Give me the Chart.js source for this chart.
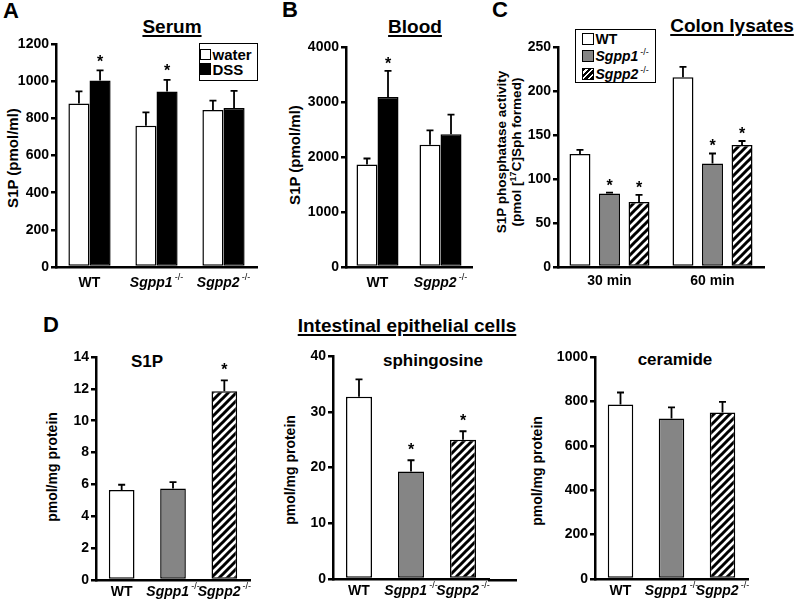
<!DOCTYPE html>
<html>
<head>
<meta charset="utf-8">
<script src="https://cdn.jsdelivr.net/npm/chart.js@4"></script>
<style>
  body { margin: 0; width: 800px; height: 603px; background: #fff; position: relative; overflow: hidden;
         font-family: "Liberation Sans", Arial, sans-serif; font-weight: bold; color: #000; }
  .t { position: absolute; white-space: nowrap; line-height: 1; }
  .c { transform: translateX(-50%); }
  .ttl { font-size: 19px; text-decoration: underline; text-decoration-thickness: 2px; text-underline-offset: 2px; }
  .letter { font-size: 22px; }
  .sub { font-size: 17px; }
  .ytl { position: absolute; white-space: nowrap; text-align: center; transform: translate(-50%, -50%) rotate(-90deg); }
  .panel { position: absolute; }
  .leg { position: absolute; border: 1.5px solid #000; box-sizing: border-box; }
  .sw { position: absolute; border: 1.5px solid #000; box-sizing: border-box; }
  .hatch { background: repeating-linear-gradient(-45deg, #000 0 2.2px, #fff 2.2px 4.2px); }
  sup { font-size: 9px; font-weight: normal; vertical-align: baseline; position: relative; top: -6px; margin-left: 2px; }
</style>
</head>
<body>

<div class="t letter" style="left:3px;top:0px">A</div>
<div class="t letter" style="left:282px;top:-1px">B</div>
<div class="t letter" style="left:492px;top:-1px">C</div>
<div class="t letter" style="left:43px;top:314px">D</div>

<div class="t ttl c" style="left:172px;top:17px">Serum</div>
<div class="t ttl c" style="left:415px;top:17px">Blood</div>
<div class="t ttl c" style="left:732px;top:16px">Colon lysates</div>
<div class="t ttl c" style="left:407px;top:316px">Intestinal epithelial cells</div>

<div class="t sub c" style="left:147px;top:353px">S1P</div>
<div class="t sub c" style="left:433px;top:352px">sphingosine</div>
<div class="t sub c" style="left:675px;top:351px">ceramide</div>

<div class="ytl" style="left:12px;top:158px;font-size:15px">S1P (pmol/ml)</div>
<div class="ytl" style="left:294px;top:155px;font-size:15px">S1P (pmol/ml)</div>
<div class="ytl" style="left:510px;top:152px;font-size:13.5px;line-height:15px">S1P phosphatase activity<br>(pmol [<span style="font-size:9px;position:relative;top:-5px">17</span>C]Sph formed)</div>
<div class="ytl" style="left:52px;top:467px;font-size:14px">pmol/mg protein</div>
<div class="ytl" style="left:290px;top:470px;font-size:14px">pmol/mg protein</div>
<div class="ytl" style="left:537px;top:471px;font-size:14px">pmol/mg protein</div>

<div class="leg" style="left:199px;top:43px;width:59px;height:38px">
  <div class="sw" style="left:0px;top:4.5px;width:11px;height:11px;background:#fff"></div>
  <div class="t" style="left:12.5px;top:2.5px;font-size:15px">water</div>
  <div class="sw" style="left:0px;top:18.5px;width:11px;height:12px;background:#000"></div>
  <div class="t" style="left:12.5px;top:17.5px;font-size:15px">DSS</div>
</div>

<div class="leg" style="left:575px;top:29px;width:81px;height:54px">
  <div class="sw" style="left:5.5px;top:2.5px;width:12px;height:12px;background:#fff"></div>
  <div class="t" style="left:19.5px;top:1.5px;font-size:14px">WT</div>
  <div class="sw" style="left:5.5px;top:20px;width:12px;height:12px;background:#858585"></div>
  <div class="t" style="left:19.5px;top:19px;font-size:14px"><i>Sgpp1</i><sup>-/-</sup></div>
  <div class="sw hatch" style="left:5.5px;top:37.5px;width:12px;height:12px"></div>
  <div class="t" style="left:19.5px;top:36.5px;font-size:14px"><i>Sgpp2</i><sup>-/-</sup></div>
</div>

<script>
// panel A - serum
const catsA = ["WT", "Sgpp1-/-", "Sgpp2-/-"];
const waterA = [880, 760, 845];
const waterErrA = [65, 72, 50];
const dssA = [1003, 944, 855];
const dssErrA = [55, 63, 93];
const dssStarA = [true, true, false];
const ticksA = [0, 1200, 200];

// panel B - blood
const catsB = ["WT", "Sgpp2-/-"];
const waterB = [1865, 2225];
const waterErrB = [108, 260];
const dssB = [3090, 2415];
const dssErrB = [475, 355];
const dssStarB = [true, false];
const ticksB = [0, 4000, 1000];

// panel C - colon lysates
const catsC = ["30 min", "60 min"];
const wtC = [128.5, 215.5];
const wtErrC = [4.5, 12];
const sgpp1C = [83.5, 117.5];
const sgpp1ErrC = [1, 11.5];
const sgpp1StarC = [true, true];
const sgpp2C = [74, 138.5];
const sgpp2ErrC = [8, 4.7];
const sgpp2StarC = [true, true];
const ticksC = [0, 250, 50];

// panel D - intestinal epithelial cells
const catsD = ["WT", "Sgpp1-/-", "Sgpp2-/-"];
const s1pD = [5.65, 5.75, 11.85];
const s1pErrD = [0.33, 0.4, 0.68];
const s1pStarD = [false, false, true];
const ticksD1 = [0, 14, 2];
const sphD = [32.7, 19.3, 25.0];
const sphErrD = [3.1, 2.0, 1.5];
const sphStarD = [false, true, true];
const ticksD2 = [0, 40, 10];
const cerD = [786, 723, 750];
const cerErrD = [54, 50, 48];
const cerStarD = [false, false, false];
const ticksD3 = [0, 1000, 200];

const FONT = '"Liberation Sans", Arial, sans-serif';
const GRAY = "#858585";
const YW = 50, PT = 14, PR = 8, XH = 34;

function makeHatch() {
  const s = 8;
  const c = document.createElement("canvas");
  c.width = s; c.height = s;
  const g = c.getContext("2d");
  g.fillStyle = "#fff";
  g.fillRect(0, 0, s, s);
  g.strokeStyle = "#000";
  g.lineWidth = 3;
  g.beginPath();
  g.moveTo(-1, s + 1); g.lineTo(s + 1, -1);
  g.moveTo(-s / 2 - 1, s / 2 + 1); g.lineTo(s / 2 + 1, -s / 2 - 1);
  g.moveTo(s / 2 - 1, s * 1.5 + 1); g.lineTo(s * 1.5 + 1, s / 2 - 1);
  g.stroke();
  return g.createPattern(c, "repeat");
}
const HATCH = makeHatch();

const extras = {
  id: "extras",
  afterDatasetsDraw(chart, args, o) {
    const ctx = chart.ctx;
    const ca = chart.chartArea;
    const ys = chart.scales.y, xs = chart.scales.x;
    ctx.save();
    ctx.strokeStyle = "#000";
    ctx.fillStyle = "#000";
    chart.data.datasets.forEach((ds, i) => {
      chart.getDatasetMeta(i).data.forEach((bar, j) => {
        const yt = ys.getPixelForValue(ds.data[j] + ds.errors[j]);
        ctx.lineWidth = 1.8;
        ctx.beginPath();
        ctx.moveTo(bar.x, bar.y);
        ctx.lineTo(bar.x, yt);
        ctx.moveTo(bar.x - 3.5, yt);
        ctx.lineTo(bar.x + 3.5, yt);
        ctx.stroke();
        if (ds.stars && ds.stars[j]) {
          ctx.font = "bold 16px " + FONT;
          ctx.textAlign = "center";
          ctx.textBaseline = "alphabetic";
          ctx.fillText("*", bar.x, yt - o.starLift + 9);
        }
      });
    });

    // category labels, Sgpp names italic with a small -/- superscript
    ctx.textBaseline = "middle";
    ctx.textAlign = "left";
    chart.data.labels.forEach((lab, j) => {
      const cx = xs.getPixelForValue(j);
      const cy = ca.bottom + o.labelGap;
      let base = lab, sup = "";
      if (lab.endsWith("-/-")) { base = lab.slice(0, -3); sup = "-/-"; }
      const fBase = (sup ? "italic " : "") + "bold 14px " + FONT;
      const fSup = "9px " + FONT;
      ctx.font = fBase;
      const wb = ctx.measureText(base).width;
      ctx.font = fSup;
      const wsup = sup ? ctx.measureText(sup).width + 2 : 0;
      let x0 = cx - (wb + wsup) / 2;
      ctx.font = fBase;
      ctx.fillText(base, x0, cy);
      if (sup) {
        ctx.font = fSup;
        ctx.fillText(sup, x0 + wb + 2, cy - 5);
      }
    });

    if (o.over) {
      ctx.lineWidth = 2.5;
      ctx.beginPath();
      ctx.moveTo(ca.right - 1, ca.bottom + 1.25);
      ctx.lineTo(ca.right + o.over, ca.bottom + 1.25);
      ctx.stroke();
    }
    ctx.restore();
  }
};

function panel(box, labels, datasets, ticks, opt) {
  const over = (box.axisEnd || box.r) - box.r;
  const w = box.r - box.l + YW + PR + over;
  const h = box.b - box.t + PT + XH;
  const wrap = document.createElement("div");
  wrap.className = "panel";
  wrap.style.left = (box.l - YW) + "px";
  wrap.style.top = (box.t - PT) + "px";
  const cv = document.createElement("canvas");
  cv.width = w; cv.height = h;
  cv.style.width = w + "px";
  cv.style.height = h + "px";
  wrap.appendChild(cv);
  document.body.appendChild(wrap);

  new Chart(cv, {
    type: "bar",
    data: { labels: labels, datasets: datasets },
    options: {
      responsive: false,
      animation: false,
      devicePixelRatio: 1,
      categoryPercentage: opt.cat,
      barPercentage: opt.bar,
      layout: { padding: { top: PT, right: PR + over, left: 0, bottom: 0 } },
      plugins: {
        legend: { display: false },
        tooltip: { enabled: false },
        extras: { starLift: opt.starLift, labelGap: opt.labelGap, over: over }
      },
      scales: {
        x: {
          grid: { display: false },
          border: { display: true, color: "#000", width: 2.5 },
          ticks: { display: false },
          afterFit: s => { s.height = XH; }
        },
        y: {
          min: ticks[0],
          max: ticks[1],
          ticks: {
            stepSize: ticks[2],
            color: "#000",
            padding: 2,
            font: { family: FONT, size: 14, weight: "bold" },
            callback: v => String(v)
          },
          grid: { display: true, drawOnChartArea: false, drawTicks: true, tickLength: 5, color: "#000", lineWidth: 2.5 },
          border: { display: true, color: "#000", width: 2.5 },
          afterFit: s => { s.width = YW; }
        }
      }
    },
    plugins: [extras]
  });
}

function series(data, errors, stars, fill) {
  return {
    data: data,
    errors: errors,
    stars: stars,
    backgroundColor: fill,
    borderColor: "#000",
    borderWidth: 1.5,
    borderSkipped: false
  };
}

panel({ l: 56, t: 44, r: 257, b: 267 }, catsA, [
  series(waterA, waterErrA, null, "#fff"),
  series(dssA, dssErrA, dssStarA, "#000")
], ticksA, { cat: 0.63, bar: 1, starLift: 12.5, labelGap: 16 });

panel({ l: 346, t: 47, r: 472, b: 267 }, catsB, [
  series(waterB, waterErrB, null, "#fff"),
  series(dssB, dssErrB, dssStarB, "#000")
], ticksB, { cat: 0.667, bar: 1, starLift: 10.5, labelGap: 16 });

panel({ l: 558, t: 47, r: 764, b: 267 }, catsC, [
  series(wtC, wtErrC, null, "#fff"),
  series(sgpp1C, sgpp1ErrC, sgpp1StarC, GRAY),
  series(sgpp2C, sgpp2ErrC, sgpp2StarC, HATCH)
], ticksC, { cat: 0.86, bar: 0.71, starLift: 11, labelGap: 14 });

const fillD = ["#fff", GRAY, HATCH];

panel({ l: 96, t: 357, r: 250, b: 580 }, catsD, [
  series(s1pD, s1pErrD, s1pStarD, fillD)
], ticksD1, { cat: 1, bar: 0.5, starLift: 14, labelGap: 12 });

panel({ l: 333, t: 356, r: 489, b: 579, axisEnd: 517 }, catsD, [
  series(sphD, sphErrD, sphStarD, fillD)
], ticksD2, { cat: 1, bar: 0.5, starLift: 14, labelGap: 12 });

panel({ l: 595, t: 357, r: 748, b: 579 }, catsD, [
  series(cerD, cerErrD, cerStarD, fillD)
], ticksD3, { cat: 1, bar: 0.5, starLift: 14, labelGap: 12 });
</script>
</body>
</html>
